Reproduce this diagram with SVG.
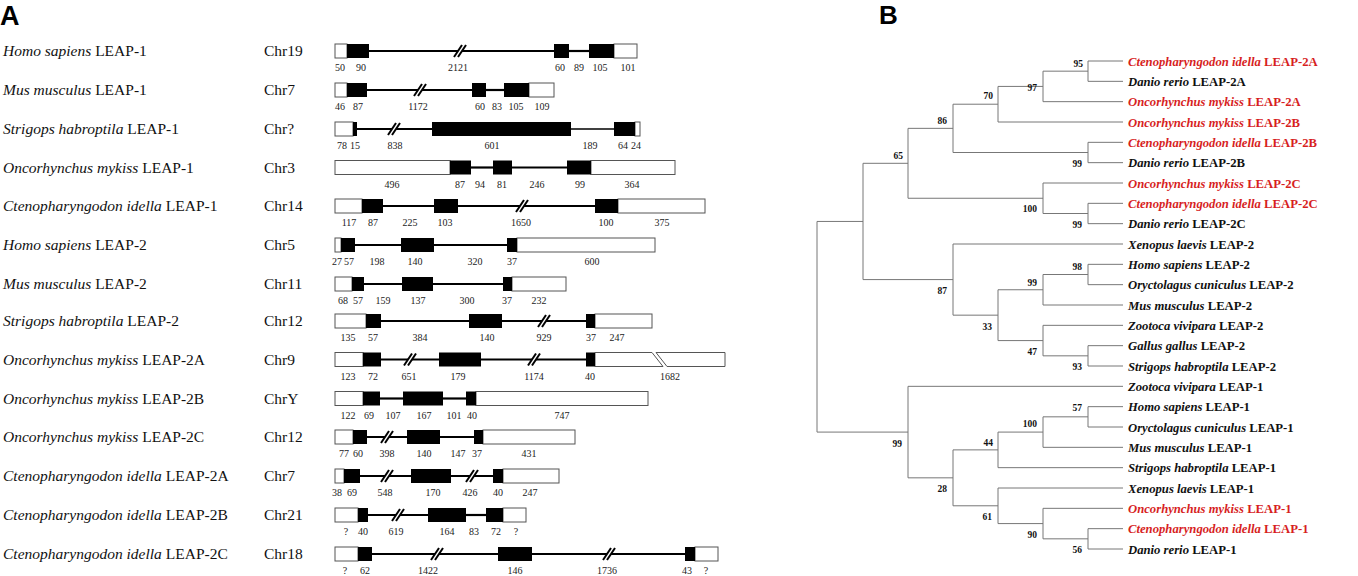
<svg xmlns="http://www.w3.org/2000/svg" xmlns:xlink="http://www.w3.org/1999/xlink" width="1358" height="576" viewBox="0 0 1358 576">
<style>
.utr{fill:#fff;stroke:#555;stroke-width:1}
.ex{fill:#000}
.in{stroke:#000;stroke-width:2.2}
.thin{stroke-width:1.3}
.num{font-family:"Liberation Serif",serif;font-size:10px;fill:#222;text-anchor:middle}
.lbl{font-family:"Liberation Serif",serif;font-size:15.5px;fill:#111}
.chr{font-family:"Liberation Serif",serif;font-size:15.5px;fill:#111}
.panel{font-family:"Liberation Sans",Arial,sans-serif;font-weight:bold;fill:#000}
.br{fill:none;stroke:#777;stroke-width:1}
.leaf{font-family:"Liberation Serif",serif;font-size:12.7px;font-weight:bold;fill:#111}
.red{fill:#d71f1f}
.bs{font-family:"Liberation Serif",serif;font-size:9.5px;font-weight:bold;fill:#111;text-anchor:end}
</style>
<defs>
<g id="brk">
<polygon points="-6,6 2,-6 6,-6 -2,6" fill="#fff"/>
<line x1="-6" y1="6" x2="2" y2="-6" stroke="#000" stroke-width="2"/>
<line x1="-2" y1="6" x2="6" y2="-6" stroke="#000" stroke-width="2"/>
</g>
</defs>
<rect width="1358" height="576" fill="#fff"/>
<text class="panel" x="0" y="25" font-size="27">A</text>
<text class="panel" x="879" y="24" font-size="26">B</text>

<!-- Panel A rows -->
<g id="rowA1" transform="translate(0,44)">
<text class="lbl" x="3" y="12"><tspan font-style="italic">Homo sapiens</tspan> LEAP-1</text>
<text class="chr" x="264" y="12">Chr19</text>
<rect class="utr" x="335" y="0" width="12" height="14"/>
<rect class="utr" x="614" y="0" width="23" height="14"/>
<line class="in" x1="369" y1="7" x2="554" y2="7"/>
<line class="in" x1="569" y1="7" x2="589" y2="7"/>
<use xlink:href="#brk" x="460" y="7"/>
<rect class="ex" x="347" y="0" width="22" height="14"/>
<rect class="ex" x="554" y="0" width="15" height="14"/>
<rect class="ex" x="589" y="0" width="25" height="14"/>
<text class="num" y="27"><tspan x="340">50</tspan><tspan x="361">90</tspan><tspan x="458">2121</tspan><tspan x="560">60</tspan><tspan x="579">89</tspan><tspan x="600">105</tspan><tspan x="628">101</tspan></text>
</g>
<g id="rowA2" transform="translate(0,83)">
<text class="lbl" x="3" y="12"><tspan font-style="italic">Mus musculus</tspan> LEAP-1</text>
<text class="chr" x="264" y="12">Chr7</text>
<rect class="utr" x="335" y="0" width="12" height="14"/>
<rect class="utr" x="529" y="0" width="25" height="14"/>
<line class="in" x1="367" y1="7" x2="472" y2="7"/>
<line class="in" x1="486" y1="7" x2="504" y2="7"/>
<use xlink:href="#brk" x="420" y="7"/>
<rect class="ex" x="347" y="0" width="20" height="14"/>
<rect class="ex" x="472" y="0" width="14" height="14"/>
<rect class="ex" x="504" y="0" width="25" height="14"/>
<text class="num" y="27"><tspan x="340">46</tspan><tspan x="358">87</tspan><tspan x="418">1172</tspan><tspan x="480">60</tspan><tspan x="497">83</tspan><tspan x="516">105</tspan><tspan x="542">109</tspan></text>
</g>
<g id="rowA3" transform="translate(0,122)">
<text class="lbl" x="3" y="12"><tspan font-style="italic">Strigops habroptila</tspan> LEAP-1</text>
<text class="chr" x="264" y="12">Chr?</text>
<rect class="utr" x="335" y="0" width="18" height="14"/>
<rect class="utr" x="635" y="0" width="5" height="14"/>
<line class="in" x1="357" y1="7" x2="432" y2="7"/>
<line class="in thin" x1="571" y1="7" x2="614" y2="7"/>
<use xlink:href="#brk" x="394" y="7"/>
<rect class="ex" x="353" y="0" width="4" height="14"/>
<rect class="ex" x="432" y="0" width="139" height="14"/>
<rect class="ex" x="614" y="0" width="21" height="14"/>
<text class="num" y="27"><tspan x="342">78</tspan><tspan x="355">15</tspan><tspan x="395">838</tspan><tspan x="492">601</tspan><tspan x="590">189</tspan><tspan x="623">64</tspan><tspan x="636">24</tspan></text>
</g>
<g id="rowA4" transform="translate(0,160.5)">
<text class="lbl" x="3" y="12"><tspan font-style="italic">Oncorhynchus mykiss</tspan> LEAP-1</text>
<text class="chr" x="264" y="12">Chr3</text>
<rect class="utr" x="335" y="0" width="115" height="14"/>
<rect class="utr" x="591" y="0" width="84" height="14"/>
<line class="in" x1="471" y1="7" x2="493" y2="7"/>
<line class="in" x1="512" y1="7" x2="567" y2="7"/>
<rect class="ex" x="450" y="0" width="21" height="14"/>
<rect class="ex" x="493" y="0" width="19" height="14"/>
<rect class="ex" x="567" y="0" width="24" height="14"/>
<text class="num" y="27"><tspan x="392">496</tspan><tspan x="460">87</tspan><tspan x="480">94</tspan><tspan x="502">81</tspan><tspan x="537">246</tspan><tspan x="580">99</tspan><tspan x="632">364</tspan></text>
</g>
<g id="rowA5" transform="translate(0,199)">
<text class="lbl" x="3" y="12"><tspan font-style="italic">Ctenopharyngodon idella</tspan> LEAP-1</text>
<text class="chr" x="264" y="12">Chr14</text>
<rect class="utr" x="335" y="0" width="27" height="14"/>
<rect class="utr" x="618" y="0" width="87" height="14"/>
<line class="in" x1="383" y1="7" x2="434" y2="7"/>
<line class="in" x1="458" y1="7" x2="595" y2="7"/>
<use xlink:href="#brk" x="522" y="7"/>
<rect class="ex" x="362" y="0" width="21" height="14"/>
<rect class="ex" x="434" y="0" width="24" height="14"/>
<rect class="ex" x="595" y="0" width="23" height="14"/>
<text class="num" y="27"><tspan x="349">117</tspan><tspan x="373">87</tspan><tspan x="410">225</tspan><tspan x="445">103</tspan><tspan x="521">1650</tspan><tspan x="606">100</tspan><tspan x="662">375</tspan></text>
</g>
<g id="rowA6" transform="translate(0,238)">
<text class="lbl" x="3" y="12"><tspan font-style="italic">Homo sapiens</tspan> LEAP-2</text>
<text class="chr" x="264" y="12">Chr5</text>
<rect class="utr" x="335" y="0" width="6" height="14"/>
<rect class="utr" x="517" y="0" width="138" height="14"/>
<line class="in" x1="355" y1="7" x2="401" y2="7"/>
<line class="in" x1="434" y1="7" x2="507" y2="7"/>
<rect class="ex" x="341" y="0" width="14" height="14"/>
<rect class="ex" x="401" y="0" width="33" height="14"/>
<rect class="ex" x="507" y="0" width="10" height="14"/>
<text class="num" y="27"><tspan x="337">27</tspan><tspan x="349">57</tspan><tspan x="377">198</tspan><tspan x="415">140</tspan><tspan x="475">320</tspan><tspan x="512">37</tspan><tspan x="592">600</tspan></text>
</g>
<g id="rowA7" transform="translate(0,277)">
<text class="lbl" x="3" y="12"><tspan font-style="italic">Mus musculus</tspan> LEAP-2</text>
<text class="chr" x="264" y="12">Chr11</text>
<rect class="utr" x="335" y="0" width="17" height="14"/>
<rect class="utr" x="512" y="0" width="54" height="14"/>
<line class="in" x1="364" y1="7" x2="402" y2="7"/>
<line class="in" x1="433" y1="7" x2="503" y2="7"/>
<rect class="ex" x="352" y="0" width="12" height="14"/>
<rect class="ex" x="402" y="0" width="31" height="14"/>
<rect class="ex" x="503" y="0" width="9" height="14"/>
<text class="num" y="27"><tspan x="343">68</tspan><tspan x="358">57</tspan><tspan x="383">159</tspan><tspan x="418">137</tspan><tspan x="467">300</tspan><tspan x="507">37</tspan><tspan x="539">232</tspan></text>
</g>
<g id="rowA8" transform="translate(0,314)">
<text class="lbl" x="3" y="12"><tspan font-style="italic">Strigops habroptila</tspan> LEAP-2</text>
<text class="chr" x="264" y="12">Chr12</text>
<rect class="utr" x="335" y="0" width="31" height="14"/>
<rect class="utr" x="595" y="0" width="57" height="14"/>
<line class="in" x1="381" y1="7" x2="469" y2="7"/>
<line class="in" x1="502" y1="7" x2="586" y2="7"/>
<use xlink:href="#brk" x="544" y="7"/>
<rect class="ex" x="366" y="0" width="15" height="14"/>
<rect class="ex" x="469" y="0" width="33" height="14"/>
<rect class="ex" x="586" y="0" width="9" height="14"/>
<text class="num" y="27"><tspan x="348">135</tspan><tspan x="373">57</tspan><tspan x="420">384</tspan><tspan x="487">140</tspan><tspan x="544">929</tspan><tspan x="591">37</tspan><tspan x="617">247</tspan></text>
</g>
<g id="rowA9" transform="translate(0,352.5)">
<text class="lbl" x="3" y="12"><tspan font-style="italic">Oncorhynchus mykiss</tspan> LEAP-2A</text>
<text class="chr" x="264" y="12">Chr9</text>
<rect class="utr" x="335" y="0" width="28" height="14"/>
<path class="utr" d="M595,0 H652 L663,14 H595 Z"/>
<path class="utr" d="M656,0 H725 V14 H667 Z"/>
<line class="in" x1="381" y1="7" x2="439" y2="7"/>
<line class="in" x1="481" y1="7" x2="586" y2="7"/>
<use xlink:href="#brk" x="410" y="7"/>
<use xlink:href="#brk" x="534" y="7"/>
<rect class="ex" x="363" y="0" width="18" height="14"/>
<rect class="ex" x="439" y="0" width="42" height="14"/>
<rect class="ex" x="586" y="0" width="9" height="14"/>
<text class="num" y="27"><tspan x="348">123</tspan><tspan x="373">72</tspan><tspan x="409">651</tspan><tspan x="458">179</tspan><tspan x="534">1174</tspan><tspan x="590">40</tspan><tspan x="670">1682</tspan></text>
</g>
<g id="rowA10" transform="translate(0,391.5)">
<text class="lbl" x="3" y="12"><tspan font-style="italic">Oncorhynchus mykiss</tspan> LEAP-2B</text>
<text class="chr" x="264" y="12">ChrY</text>
<rect class="utr" x="335" y="0" width="28" height="14"/>
<rect class="utr" x="476" y="0" width="172" height="14"/>
<line class="in" x1="380" y1="7" x2="403" y2="7"/>
<line class="in" x1="443" y1="7" x2="466" y2="7"/>
<rect class="ex" x="363" y="0" width="17" height="14"/>
<rect class="ex" x="403" y="0" width="40" height="14"/>
<rect class="ex" x="466" y="0" width="10" height="14"/>
<text class="num" y="27"><tspan x="348">122</tspan><tspan x="369">69</tspan><tspan x="393">107</tspan><tspan x="424">167</tspan><tspan x="454">101</tspan><tspan x="472">40</tspan><tspan x="562">747</tspan></text>
</g>
<g id="rowA11" transform="translate(0,430)">
<text class="lbl" x="3" y="12"><tspan font-style="italic">Oncorhynchus mykiss</tspan> LEAP-2C</text>
<text class="chr" x="264" y="12">Chr12</text>
<rect class="utr" x="335" y="0" width="18" height="14"/>
<rect class="utr" x="483" y="0" width="92" height="14"/>
<line class="in" x1="367" y1="7" x2="407" y2="7"/>
<line class="in" x1="440" y1="7" x2="474" y2="7"/>
<use xlink:href="#brk" x="387" y="7"/>
<rect class="ex" x="353" y="0" width="14" height="14"/>
<rect class="ex" x="407" y="0" width="33" height="14"/>
<rect class="ex" x="474" y="0" width="9" height="14"/>
<text class="num" y="27"><tspan x="344">77</tspan><tspan x="358">60</tspan><tspan x="387">398</tspan><tspan x="424">140</tspan><tspan x="458">147</tspan><tspan x="477">37</tspan><tspan x="529">431</tspan></text>
</g>
<g id="rowA12" transform="translate(0,469)">
<text class="lbl" x="3" y="12"><tspan font-style="italic">Ctenopharyngodon idella</tspan> LEAP-2A</text>
<text class="chr" x="264" y="12">Chr7</text>
<rect class="utr" x="335" y="0" width="9" height="14"/>
<rect class="utr" x="503" y="0" width="56" height="14"/>
<line class="in" x1="360" y1="7" x2="411" y2="7"/>
<line class="in" x1="451" y1="7" x2="493" y2="7"/>
<use xlink:href="#brk" x="387" y="7"/>
<use xlink:href="#brk" x="472" y="7"/>
<rect class="ex" x="344" y="0" width="16" height="14"/>
<rect class="ex" x="411" y="0" width="40" height="14"/>
<rect class="ex" x="493" y="0" width="10" height="14"/>
<text class="num" y="27"><tspan x="337">38</tspan><tspan x="352">69</tspan><tspan x="385">548</tspan><tspan x="433">170</tspan><tspan x="470">426</tspan><tspan x="498">40</tspan><tspan x="530">247</tspan></text>
</g>
<g id="rowA13" transform="translate(0,508)">
<text class="lbl" x="3" y="12"><tspan font-style="italic">Ctenopharyngodon idella</tspan> LEAP-2B</text>
<text class="chr" x="264" y="12">Chr21</text>
<rect class="utr" x="335" y="0" width="23" height="14"/>
<rect class="utr" x="503" y="0" width="23" height="14"/>
<line class="in" x1="368" y1="7" x2="428" y2="7"/>
<line class="in" x1="466" y1="7" x2="486" y2="7"/>
<use xlink:href="#brk" x="398" y="7"/>
<rect class="ex" x="358" y="0" width="10" height="14"/>
<rect class="ex" x="428" y="0" width="38" height="14"/>
<rect class="ex" x="486" y="0" width="17" height="14"/>
<text class="num" y="27"><tspan x="346">?</tspan><tspan x="363">40</tspan><tspan x="396">619</tspan><tspan x="447">164</tspan><tspan x="474">83</tspan><tspan x="496">72</tspan><tspan x="516">?</tspan></text>
</g>
<g id="rowA14" transform="translate(0,547)">
<text class="lbl" x="3" y="12"><tspan font-style="italic">Ctenopharyngodon idella</tspan> LEAP-2C</text>
<text class="chr" x="264" y="12">Chr18</text>
<rect class="utr" x="335" y="0" width="23" height="14"/>
<rect class="utr" x="695" y="0" width="23" height="14"/>
<line class="in" x1="372" y1="7" x2="498" y2="7"/>
<line class="in" x1="532" y1="7" x2="685" y2="7"/>
<use xlink:href="#brk" x="437" y="7"/>
<use xlink:href="#brk" x="609" y="7"/>
<rect class="ex" x="358" y="0" width="14" height="14"/>
<rect class="ex" x="498" y="0" width="34" height="14"/>
<rect class="ex" x="685" y="0" width="10" height="14"/>
<text class="num" y="26.5"><tspan x="345">?</tspan><tspan x="365">62</tspan><tspan x="428">1422</tspan><tspan x="515">146</tspan><tspan x="607">1736</tspan><tspan x="687">43</tspan><tspan x="706">?</tspan></text>
</g>

<!-- Panel B tree -->
<g id="connectors">
<path class="br" d="M1123,61 H1088 V81.33 H1123"/>
<path class="br" d="M1088,71.17 H1043 V101.67 H1123"/>
<path class="br" d="M1043,86.42 H998 V122 H1123"/>
<path class="br" d="M1123,142.33 H1088 V162.67 H1123"/>
<path class="br" d="M998,104.21 H953 V152.5 H1088"/>
<path class="br" d="M1123,203.33 H1088 V223.67 H1123"/>
<path class="br" d="M1123,183 H1043 V213.5 H1088"/>
<path class="br" d="M953,128.35 H908 V198.25 H1043"/>
<path class="br" d="M1123,264.33 H1088 V284.67 H1123"/>
<path class="br" d="M1088,274.5 H1043 V305 H1123"/>
<path class="br" d="M1123,345.67 H1088 V366 H1123"/>
<path class="br" d="M1123,325.33 H1043 V355.83 H1088"/>
<path class="br" d="M1043,289.75 H998 V340.58 H1043"/>
<path class="br" d="M1123,244 H953 V315.17 H998"/>
<path class="br" d="M908,163.3 H863 V279.58 H953"/>
<path class="br" d="M1123,406.67 H1088 V427 H1123"/>
<path class="br" d="M1088,416.83 H1043 V447.33 H1123"/>
<path class="br" d="M1043,432.08 H998 V467.67 H1123"/>
<path class="br" d="M1123,528.67 H1088 V549 H1123"/>
<path class="br" d="M1123,508.33 H1043 V538.83 H1088"/>
<path class="br" d="M1123,488 H998 V523.58 H1043"/>
<path class="br" d="M998,449.88 H953 V505.79 H998"/>
<path class="br" d="M1123,386.33 H908 V477.83 H953"/>
<path class="br" d="M863,221.44 H817 V432.08 H908"/>
</g>

<g id="bootstrap">
<text class="bs" x="1083" y="67.3">95</text>
<text class="bs" x="1037" y="91">97</text>
<text class="bs" x="993" y="99">70</text>
<text class="bs" x="947" y="124">86</text>
<text class="bs" x="903" y="159">65</text>
<text class="bs" x="1082" y="167">99</text>
<text class="bs" x="1037" y="212">100</text>
<text class="bs" x="1082" y="228">99</text>
<text class="bs" x="1082" y="270">98</text>
<text class="bs" x="1037" y="286">99</text>
<text class="bs" x="947" y="294">87</text>
<text class="bs" x="992" y="330">33</text>
<text class="bs" x="1037" y="355">47</text>
<text class="bs" x="1082" y="370">93</text>
<text class="bs" x="1082" y="411">57</text>
<text class="bs" x="1037" y="427">100</text>
<text class="bs" x="993" y="446">44</text>
<text class="bs" x="902" y="447">99</text>
<text class="bs" x="947" y="492">28</text>
<text class="bs" x="992" y="520">61</text>
<text class="bs" x="1037" y="538">90</text>
<text class="bs" x="1082" y="553">56</text>
</g>

<g id="leaf1"><text class="leaf red" x="1128" y="65.5"><tspan font-style="italic">Ctenopharyngodon idella</tspan> LEAP-2A</text></g>
<g id="leaf2"><text class="leaf" x="1128" y="85.8"><tspan font-style="italic">Danio rerio</tspan> LEAP-2A</text></g>
<g id="leaf3"><text class="leaf red" x="1128" y="106.2"><tspan font-style="italic">Oncorhynchus mykiss</tspan> LEAP-2A</text></g>
<g id="leaf4"><text class="leaf red" x="1128" y="126.5"><tspan font-style="italic">Oncorhynchus mykiss</tspan> LEAP-2B</text></g>
<g id="leaf5"><text class="leaf red" x="1128" y="146.8"><tspan font-style="italic">Ctenopharyngodon idella</tspan> LEAP-2B</text></g>
<g id="leaf6"><text class="leaf" x="1128" y="167.2"><tspan font-style="italic">Danio rerio</tspan> LEAP-2B</text></g>
<g id="leaf7"><text class="leaf red" x="1128" y="187.5"><tspan font-style="italic">Oncorhynchus mykiss</tspan> LEAP-2C</text></g>
<g id="leaf8"><text class="leaf red" x="1128" y="207.8"><tspan font-style="italic">Ctenopharyngodon idella</tspan> LEAP-2C</text></g>
<g id="leaf9"><text class="leaf" x="1128" y="228.2"><tspan font-style="italic">Danio rerio</tspan> LEAP-2C</text></g>
<g id="leaf10"><text class="leaf" x="1128" y="248.5"><tspan font-style="italic">Xenopus laevis</tspan> LEAP-2</text></g>
<g id="leaf11"><text class="leaf" x="1128" y="268.8"><tspan font-style="italic">Homo sapiens</tspan> LEAP-2</text></g>
<g id="leaf12"><text class="leaf" x="1128" y="289.2"><tspan font-style="italic">Oryctolagus cuniculus</tspan> LEAP-2</text></g>
<g id="leaf13"><text class="leaf" x="1128" y="309.5"><tspan font-style="italic">Mus musculus</tspan> LEAP-2</text></g>
<g id="leaf14"><text class="leaf" x="1128" y="329.8"><tspan font-style="italic">Zootoca vivipara</tspan> LEAP-2</text></g>
<g id="leaf15"><text class="leaf" x="1128" y="350.2"><tspan font-style="italic">Gallus gallus</tspan> LEAP-2</text></g>
<g id="leaf16"><text class="leaf" x="1128" y="370.5"><tspan font-style="italic">Strigops habroptila</tspan> LEAP-2</text></g>
<g id="leaf17"><text class="leaf" x="1128" y="390.8"><tspan font-style="italic">Zootoca vivipara</tspan> LEAP-1</text></g>
<g id="leaf18"><text class="leaf" x="1128" y="411.2"><tspan font-style="italic">Homo sapiens</tspan> LEAP-1</text></g>
<g id="leaf19"><text class="leaf" x="1128" y="431.5"><tspan font-style="italic">Oryctolagus cuniculus</tspan> LEAP-1</text></g>
<g id="leaf20"><text class="leaf" x="1128" y="451.8"><tspan font-style="italic">Mus musculus</tspan> LEAP-1</text></g>
<g id="leaf21"><text class="leaf" x="1128" y="472.2"><tspan font-style="italic">Strigops habroptila</tspan> LEAP-1</text></g>
<g id="leaf22"><text class="leaf" x="1128" y="492.5"><tspan font-style="italic">Xenopus laevis</tspan> LEAP-1</text></g>
<g id="leaf23"><text class="leaf red" x="1128" y="512.8"><tspan font-style="italic">Oncorhynchus mykiss</tspan> LEAP-1</text></g>
<g id="leaf24"><text class="leaf red" x="1128" y="533.2"><tspan font-style="italic">Ctenopharyngodon idella</tspan> LEAP-1</text></g>
<g id="leaf25"><text class="leaf" x="1128" y="553.5"><tspan font-style="italic">Danio rerio</tspan> LEAP-1</text></g>
</svg>
